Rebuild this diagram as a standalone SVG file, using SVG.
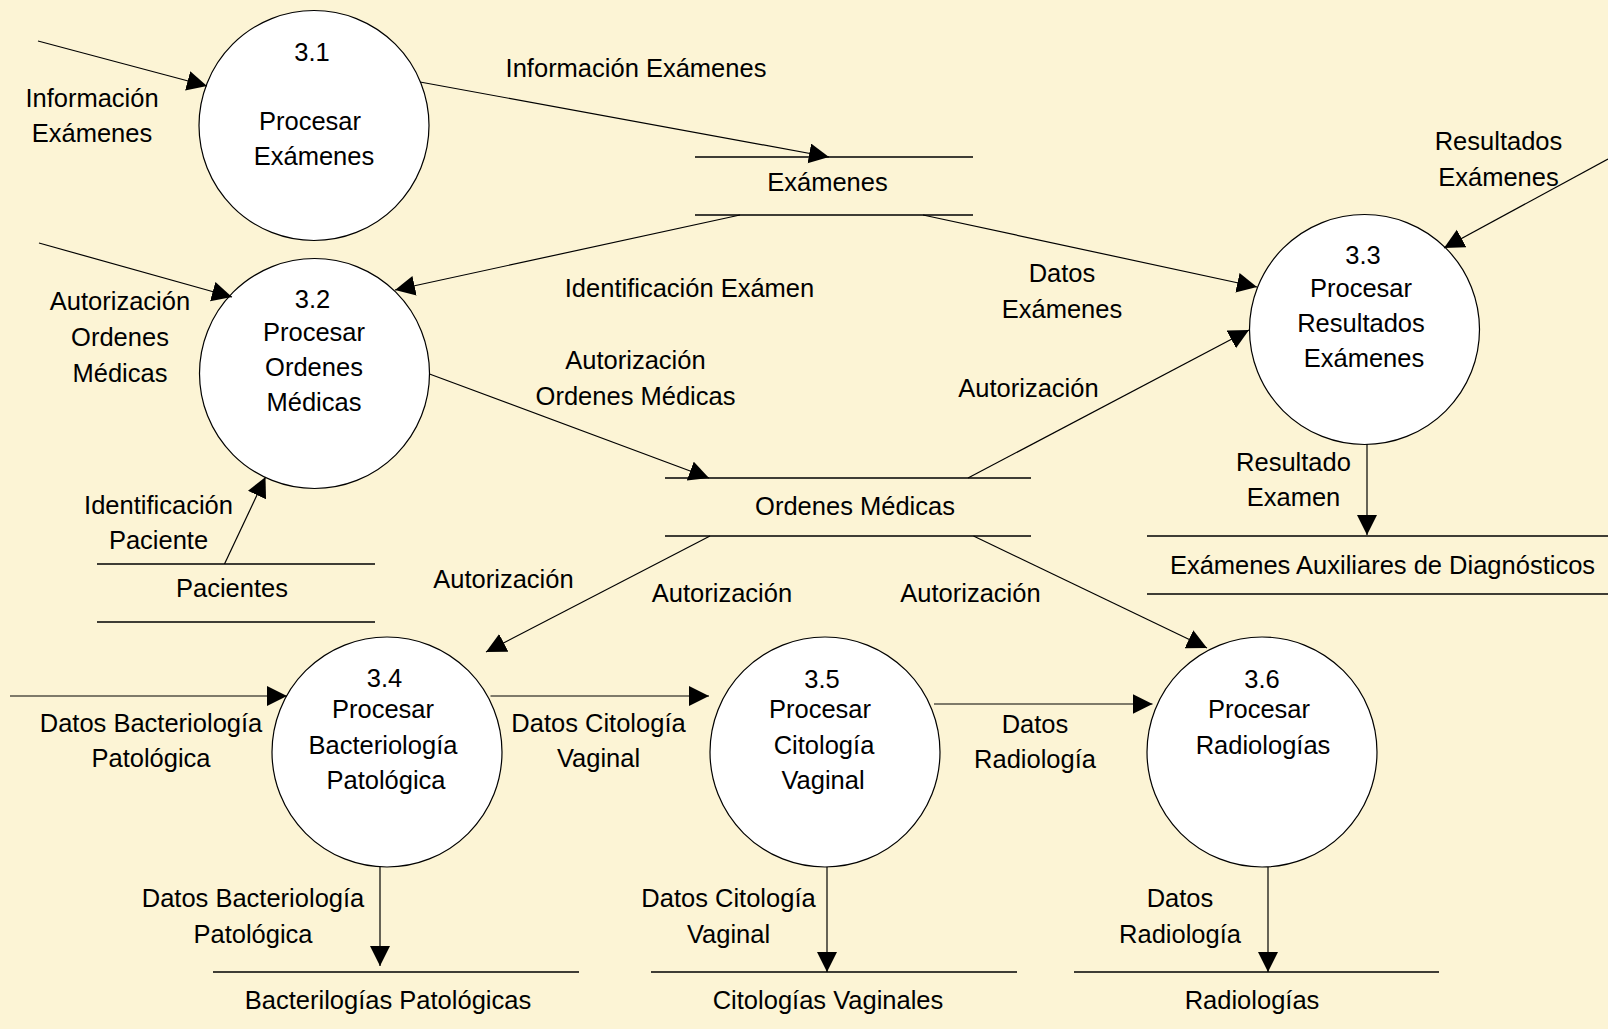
<svg xmlns="http://www.w3.org/2000/svg" width="1608" height="1029" viewBox="0 0 1608 1029">
  <defs>
    <marker id="arrow" markerUnits="userSpaceOnUse" markerWidth="22" markerHeight="22" refX="20" refY="10" orient="auto">
      <path d="M0,0 L20,10 L0,20 Z" fill="#000"/>
    </marker>
    <style>
      text { font-family: "Liberation Sans", Arial, sans-serif; font-size: 25.5px; fill: #000; text-anchor: middle; }
      .proc { fill: #fff; stroke: #000; stroke-width: 1.2; }
      .store { stroke: #000; stroke-width: 1.5; }
      .flow { stroke: #000; stroke-width: 1.2; fill: none; marker-end: url(#arrow); }
    </style>
  </defs>

  <rect x="0" y="0" width="1608" height="1029" fill="#fcf4d5"/>

  <!-- data stores -->
  <g id="store-examenes">
    <line class="store" x1="695" y1="157" x2="973" y2="157"/>
    <line class="store" x1="695" y1="215" x2="973" y2="215"/>
    <text x="827.5" y="191">Exámenes</text>
  </g>
  <g id="store-ordenes">
    <line class="store" x1="665" y1="478" x2="1031" y2="478"/>
    <line class="store" x1="665" y1="536" x2="1031" y2="536"/>
    <text x="855" y="515">Ordenes Médicas</text>
  </g>
  <g id="store-pacientes">
    <line class="store" x1="97" y1="564" x2="375" y2="564"/>
    <line class="store" x1="97" y1="622" x2="375" y2="622"/>
    <text x="232" y="597">Pacientes</text>
  </g>
  <g id="store-auxiliares">
    <line class="store" x1="1147" y1="536" x2="1608" y2="536"/>
    <line class="store" x1="1147" y1="594" x2="1608" y2="594"/>
    <text x="1382.5" y="574">Exámenes Auxiliares de Diagnósticos</text>
  </g>
  <g id="store-bacteriologias">
    <line class="store" x1="213" y1="972" x2="579" y2="972"/>
    <text x="388" y="1009">Bacterilogías Patológicas</text>
  </g>
  <g id="store-citologias">
    <line class="store" x1="651" y1="972" x2="1017" y2="972"/>
    <text x="828" y="1009">Citologías Vaginales</text>
  </g>
  <g id="store-radiologias">
    <line class="store" x1="1074" y1="972" x2="1439" y2="972"/>
    <text x="1252" y="1009">Radiologías</text>
  </g>

  <!-- processes -->
  <g id="p3-1">
    <circle class="proc" cx="314" cy="125.5" r="115"/>
    <text x="312" y="61">3.1</text>
    <text x="310" y="130">Procesar</text>
    <text x="314" y="165">Exámenes</text>
  </g>
  <g id="p3-2">
    <circle class="proc" cx="314.5" cy="373.5" r="115"/>
    <text x="312.5" y="308">3.2</text>
    <text x="314" y="341">Procesar</text>
    <text x="314" y="376">Ordenes</text>
    <text x="314" y="411">Médicas</text>
  </g>
  <g id="p3-3">
    <circle class="proc" cx="1364.5" cy="329.5" r="115"/>
    <text x="1363" y="264">3.3</text>
    <text x="1361" y="297">Procesar</text>
    <text x="1361" y="332">Resultados</text>
    <text x="1364" y="367">Exámenes</text>
  </g>
  <g id="p3-4">
    <circle class="proc" cx="387" cy="752" r="115"/>
    <text x="384.5" y="687">3.4</text>
    <text x="383" y="718">Procesar</text>
    <text x="383" y="754">Bacteriología</text>
    <text x="386" y="789">Patológica</text>
  </g>
  <g id="p3-5">
    <circle class="proc" cx="825" cy="752" r="115"/>
    <text x="822" y="688">3.5</text>
    <text x="820" y="718">Procesar</text>
    <text x="824" y="754">Citología</text>
    <text x="823" y="789">Vaginal</text>
  </g>
  <g id="p3-6">
    <circle class="proc" cx="1262" cy="752" r="115"/>
    <text x="1262" y="688">3.6</text>
    <text x="1259" y="718">Procesar</text>
    <text x="1263" y="754">Radiologías</text>
  </g>

  <!-- data flows -->
  <g id="connectors">
    <line class="flow" x1="38" y1="41" x2="207" y2="86"/>
    <line class="flow" x1="420" y1="82" x2="829" y2="157"/>
    <line class="flow" x1="39" y1="243" x2="232" y2="297"/>
    <line class="flow" x1="740" y1="215" x2="395" y2="290"/>
    <line class="flow" x1="923" y1="215" x2="1257" y2="287"/>
    <line class="flow" x1="1608" y1="159" x2="1444" y2="248"/>
    <line class="flow" x1="968" y1="478" x2="1249" y2="330"/>
    <line class="flow" x1="429.5" y1="374" x2="709" y2="478"/>
    <line class="flow" x1="224.5" y1="564" x2="265.5" y2="477"/>
    <line class="flow" x1="1367" y1="444" x2="1367" y2="535"/>
    <line class="flow" x1="710" y1="536" x2="486" y2="652"/>
    <line class="flow" x1="973.5" y1="536" x2="1207" y2="648"/>
    <line class="flow" x1="10" y1="696" x2="287" y2="696"/>
    <line class="flow" x1="490.5" y1="696" x2="709" y2="696"/>
    <line class="flow" x1="934" y1="704" x2="1152.5" y2="704"/>
    <line class="flow" x1="380" y1="867" x2="380" y2="966"/>
    <line class="flow" x1="827" y1="867" x2="827" y2="972"/>
    <line class="flow" x1="1268" y1="867" x2="1268" y2="972"/>

    <!-- flow labels -->
    <text x="92" y="107">Información</text>
    <text x="92" y="142">Exámenes</text>
    <text x="636" y="77">Información Exámenes</text>
    <text x="120" y="310">Autorización</text>
    <text x="120" y="346">Ordenes</text>
    <text x="120" y="382">Médicas</text>
    <text x="689.5" y="297">Identificación Exámen</text>
    <text x="1062" y="282">Datos</text>
    <text x="1062" y="318">Exámenes</text>
    <text x="1498.5" y="150">Resultados</text>
    <text x="1498.5" y="186">Exámenes</text>
    <text x="635.5" y="369">Autorización</text>
    <text x="635.5" y="405">Ordenes Médicas</text>
    <text x="1028.5" y="397">Autorización</text>
    <text x="1293.5" y="471">Resultado</text>
    <text x="1293.5" y="506">Examen</text>
    <text x="158.5" y="514">Identificación</text>
    <text x="158.5" y="549">Paciente</text>
    <text x="503.5" y="588">Autorización</text>
    <text x="722" y="601.5">Autorización</text>
    <text x="970.5" y="601.5">Autorización</text>
    <text x="151" y="732">Datos Bacteriología</text>
    <text x="151" y="767">Patológica</text>
    <text x="598.5" y="732">Datos Citología</text>
    <text x="598.5" y="767">Vaginal</text>
    <text x="1035" y="733">Datos</text>
    <text x="1035" y="768">Radiología</text>
    <text x="253" y="907">Datos Bacteriología</text>
    <text x="253" y="943">Patológica</text>
    <text x="728.5" y="907">Datos Citología</text>
    <text x="728.5" y="943">Vaginal</text>
    <text x="1180" y="907">Datos</text>
    <text x="1180" y="943">Radiología</text>
  </g>
</svg>
